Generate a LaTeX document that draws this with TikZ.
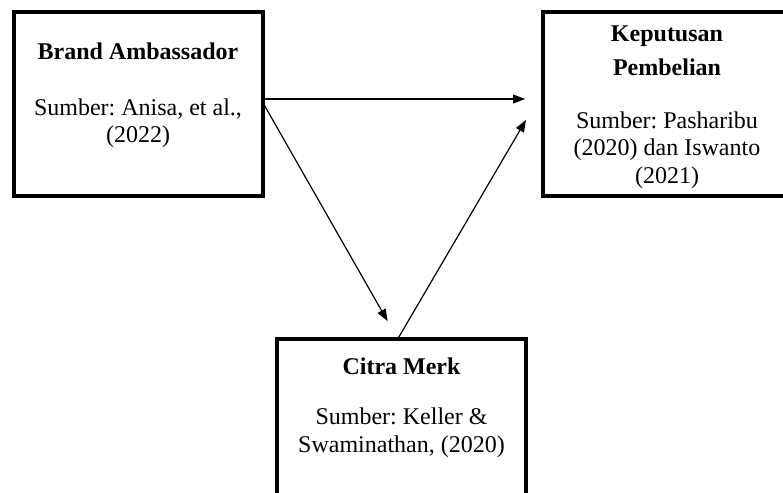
\documentclass[tikz,border=0pt]{standalone}
\usepackage{fontspec}
\setmainfont{Liberation Serif}
\usetikzlibrary{positioning,arrows.meta}
\frenchspacing

\begin{document}
\begin{tikzpicture}[x=1pt, y=-1pt,
    varbox/.style={draw=borderColour, line width=4pt, minimum width=249pt, minimum height=183.5pt, outer sep=0pt, inner sep=0pt},
    vartext/.style={align=center, inner sep=0pt, font=\fontsize{24}{27.6}\selectfont},
    link/.style={draw=borderColour, line width=1.2pt, -{Triangle[length=12pt, width=9pt]}}]
    \definecolor{borderColour}{HTML}{000000}

    % Page frame - the right and bottom boxes run past it
    \clip (0,0) rectangle (783,492);

    % Variable boxes
    \node[varbox] (ambassador) at (138,103.75) {};
    \node[varbox] (keputusan) at (667,103.75) {};
    \node[varbox] (citra) at (401.5,430.25) {};

    % Texts in the boxes
    \node[vartext, below=31pt of ambassador.north] (ambassadorText)
        {\textbf{Brand Ambassador}\\[27.6pt]Sumber: Anisa, et al.,\\(2022)};
    \node[vartext, below=14pt of keputusan.north] (keputusanText)
        {\textbf{Keputusan}\\[6pt]\textbf{Pembelian}\\[25pt]Sumber: Pasharibu\\(2020) dan Iswanto\\(2021)};
    \node[vartext, below=19pt of citra.north] (citraText)
        {\textbf{Citra Merk}\\[23pt]Sumber: Keller \&\\Swaminathan, (2020)};

    % Relations between the variables
    \draw[link, shorten >=17.5pt] ([yshift=4.75pt]ambassador.east) -- ([yshift=4.75pt]keputusan.west);
    \draw[link, shorten >=20pt] ([yshift=1.75pt]ambassador.east) -- ([xshift=-4pt]citra.north);
    \draw[link, shorten >=32.7pt] ([xshift=-3.5pt]citra.north) -- ([yshift=12pt]keputusan.west);

\end{tikzpicture}
\end{document}
